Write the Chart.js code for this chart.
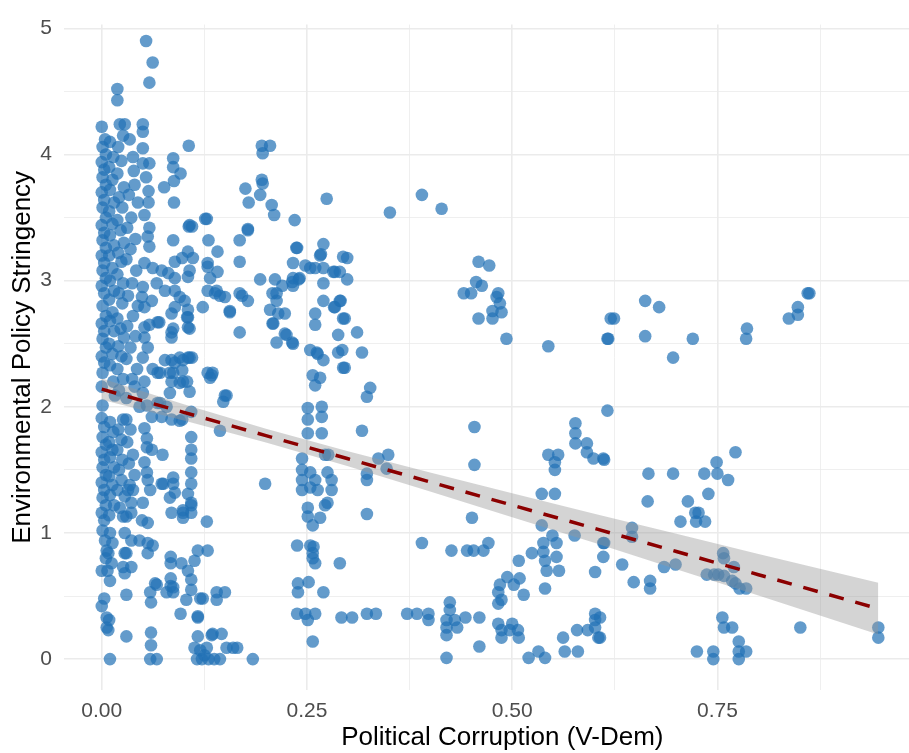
<!DOCTYPE html>
<html>
<head>
<meta charset="utf-8">
<script src="https://cdn.jsdelivr.net/npm/chart.js@4.4.1/dist/chart.umd.min.js"></script>
<style>
  html, body { margin: 0; padding: 0; background: #fff; overflow: hidden; }
</style>
</head>
<body>
<!-- the reference panel runs past the right edge of the picture, so the canvas does too -->
<canvas id="corruptionChart" width="947" height="753"></canvas>
<script>
// points, [corruption, stringency]
const denseColumnA = [[0.000,4.22],[0.004,4.12],[0.001,4.06],[0.005,4.00],[0.000,3.94],[0.003,3.88],[0.001,3.82],[0.005,3.76],[0.000,3.70],[0.003,3.64],[0.001,3.58],[0.005,3.50],[0.000,3.44],[0.003,3.38],[0.001,3.32],[0.005,3.26],[0.000,3.20],[0.003,3.14],[0.001,3.08],[0.005,3.02],[0.000,2.96],[0.003,2.90],[0.001,2.80],[0.005,2.72],[0.000,2.66],[0.003,2.60],[0.001,2.54],[0.005,2.47],[0.000,2.40],[0.003,2.35],[0.001,2.27],[0.000,2.16],[0.001,2.01],[0.000,1.91],[0.003,1.84],[0.001,1.76],[0.005,1.70],[0.000,1.64],[0.003,1.58],[0.001,1.52],[0.005,1.46],[0.000,1.40],[0.003,1.34],[0.001,1.28],[0.005,1.22],[0.000,1.16],[0.003,1.10],[0.001,1.02],[0.004,0.94],[0.006,0.86],[0.005,0.80],[0.000,0.70],[0.010,0.62],[0.003,0.48],[0.000,0.42]];
const denseColumnB = [[0.010,4.10],[0.014,3.98],[0.009,3.90],[0.013,3.80],[0.010,3.72],[0.015,3.62],[0.009,3.55],[0.013,3.45],[0.010,3.36],[0.015,3.28],[0.009,3.20],[0.013,3.10],[0.010,3.00],[0.015,2.92],[0.009,2.85],[0.013,2.75],[0.010,2.68],[0.015,2.60],[0.009,2.50],[0.013,2.42],[0.010,2.33],[0.014,2.20],[0.016,2.09],[0.010,1.88],[0.014,1.80],[0.009,1.72],[0.013,1.66],[0.010,1.60],[0.015,1.52],[0.009,1.45],[0.013,1.38],[0.010,1.30],[0.015,1.22],[0.009,1.14],[0.010,1.00],[0.013,0.92],[0.008,0.84],[0.012,0.76],[0.007,0.70],[0.006,0.33],[0.006,0.25],[0.009,0.31],[0.008,0.23],[0.010,0.00]];
const denseColumnC = [[0.019,4.52],[0.019,4.43],[0.022,4.24],[0.026,4.15],[0.020,4.06],[0.024,3.95],[0.019,3.85],[0.027,3.74],[0.021,3.66],[0.025,3.58],[0.019,3.48],[0.023,3.40],[0.027,3.30],[0.020,3.22],[0.024,3.15],[0.019,3.05],[0.026,2.98],[0.021,2.90],[0.025,2.82],[0.019,2.70],[0.023,2.62],[0.027,2.55],[0.020,2.48],[0.024,2.40],[0.019,2.30],[0.026,2.22],[0.021,2.13],[0.026,1.90],[0.020,1.82],[0.024,1.74],[0.019,1.66],[0.025,1.58],[0.021,1.50],[0.024,1.42],[0.019,1.34],[0.028,1.29],[0.022,1.20],[0.026,1.13],[0.028,1.00],[0.028,0.84],[0.026,0.73],[0.028,0.68]];
const denseColumnD = [[0.028,4.24],[0.034,4.12],[0.038,3.98],[0.039,3.87],[0.040,3.76],[0.033,3.68],[0.044,3.62],[0.036,3.50],[0.031,3.42],[0.041,3.33],[0.035,3.25],[0.030,3.17],[0.042,3.08],[0.037,2.98],[0.032,2.88],[0.044,2.80],[0.038,2.72],[0.031,2.64],[0.041,2.56],[0.035,2.47],[0.030,2.38],[0.043,2.30],[0.037,2.22],[0.040,2.16],[0.030,2.07],[0.030,1.90],[0.035,1.82],[0.031,1.72],[0.038,1.62],[0.033,1.55],[0.040,1.46],[0.034,1.38],[0.032,1.34],[0.038,1.34],[0.036,1.24],[0.036,1.16],[0.030,1.13],[0.036,0.94],[0.030,0.84],[0.036,0.73],[0.030,0.51],[0.030,0.18]];
const denseColumnE = [[0.054,4.90],[0.062,4.73],[0.058,4.57],[0.050,4.24],[0.050,4.18],[0.050,4.05],[0.050,3.93],[0.058,3.93],[0.054,3.82],[0.057,3.71],[0.057,3.62],[0.052,3.52],[0.058,3.42],[0.056,3.35],[0.058,3.27],[0.052,3.14],[0.062,3.10],[0.050,2.95],[0.049,2.87],[0.061,2.84],[0.052,2.79],[0.052,2.63],[0.052,2.55],[0.058,2.65],[0.056,2.47],[0.050,2.39],[0.062,2.30],[0.052,2.20],[0.050,2.11],[0.055,2.01],[0.046,2.00],[0.061,1.92],[0.052,1.83],[0.055,1.75],[0.055,1.68],[0.061,1.66],[0.052,1.56],[0.055,1.48],[0.056,1.42],[0.059,1.34],[0.050,1.24],[0.049,1.10],[0.056,1.08],[0.046,0.94],[0.056,0.92],[0.062,0.90],[0.056,0.84],[0.065,0.60],[0.059,0.53],[0.060,0.45],[0.060,0.21],[0.060,0.11],[0.059,0.00],[0.067,0.00]];
const leftScatter = [[0.087,3.97],[0.087,3.90],[0.096,3.85],[0.088,3.79],[0.076,3.74],[0.106,4.07],[0.088,3.62],[0.106,3.43],[0.110,3.43],[0.087,3.32],[0.107,3.44],[0.105,3.23],[0.098,3.18],[0.089,3.15],[0.111,3.18],[0.107,3.08],[0.105,3.03],[0.089,3.02],[0.081,3.06],[0.073,3.08],[0.067,2.98],[0.077,2.92],[0.089,2.92],[0.095,2.87],[0.101,2.84],[0.089,2.79],[0.085,2.74],[0.105,2.77],[0.105,2.71],[0.087,2.62],[0.085,2.55],[0.068,2.67],[0.070,2.67],[0.085,2.59],[0.104,2.71],[0.107,2.62],[0.123,2.79],[0.105,2.63],[0.105,2.39],[0.095,2.39],[0.089,2.35],[0.098,2.29],[0.110,2.39],[0.077,2.37],[0.087,2.27],[0.099,2.20],[0.068,2.27],[0.128,3.49],[0.129,2.27],[0.071,2.27],[0.083,2.27],[0.085,2.20],[0.083,2.11],[0.095,2.19],[0.104,2.20],[0.107,2.12],[0.099,2.37],[0.107,2.39],[0.085,2.37],[0.132,2.23],[0.135,2.27],[0.150,2.09],[0.152,2.09],[0.148,2.04],[0.144,1.81],[0.109,1.96],[0.071,2.03],[0.079,2.00],[0.068,2.03],[0.098,1.90],[0.085,1.90],[0.073,1.92],[0.095,1.89],[0.074,1.62],[0.075,1.39],[0.087,1.44],[0.083,1.28],[0.085,1.16],[0.099,1.16],[0.099,1.12],[0.109,1.76],[0.109,1.66],[0.109,1.59],[0.109,1.48],[0.109,1.39],[0.105,1.31],[0.109,1.22],[0.128,1.09],[0.073,1.39],[0.087,1.39],[0.089,1.32],[0.109,1.24],[0.109,1.16],[0.099,1.18],[0.199,1.39],[0.084,0.81],[0.084,0.76],[0.084,0.64],[0.084,0.58],[0.079,0.53],[0.087,0.53],[0.097,0.76],[0.105,0.70],[0.109,0.63],[0.109,0.55],[0.103,0.47],[0.096,0.36],[0.117,0.33],[0.120,0.48],[0.117,0.86],[0.129,0.86],[0.067,0.59],[0.113,0.78],[0.117,0.18],[0.120,0.07],[0.125,0.03],[0.113,0.09],[0.128,0.09],[0.165,0.09],[0.152,0.09],[0.160,0.09],[0.135,0.20],[0.146,0.20],[0.134,0.19],[0.116,0.00],[0.122,0.00],[0.130,0.00],[0.137,0.00],[0.144,0.00],[0.184,0.00],[0.117,0.34],[0.140,0.53],[0.150,0.53],[0.140,0.47],[0.123,0.48],[0.087,0.57],[0.126,3.49],[0.130,3.32],[0.141,3.23],[0.178,3.41],[0.168,3.32],[0.168,3.15],[0.129,3.11],[0.141,3.07],[0.132,3.02],[0.129,2.92],[0.138,2.90],[0.144,2.88],[0.150,2.87],[0.156,2.75],[0.171,2.88],[0.178,2.84],[0.168,2.59],[0.134,2.25],[0.140,2.92],[0.156,2.76],[0.168,2.90],[0.129,3.14],[0.195,4.07],[0.205,4.07],[0.196,4.01],[0.195,3.80],[0.196,3.77],[0.175,3.73],[0.179,3.62],[0.193,3.68],[0.207,3.60],[0.210,3.52],[0.235,3.48],[0.178,3.40]];
const midScatter = [[0.237,3.26],[0.233,3.14],[0.260,3.10],[0.193,3.01],[0.211,3.01],[0.213,2.90],[0.205,2.77],[0.209,2.66],[0.213,2.51],[0.233,2.50],[0.225,2.57],[0.232,2.99],[0.240,3.01],[0.254,3.10],[0.220,2.96],[0.208,2.90],[0.213,2.84],[0.215,2.74],[0.223,2.74],[0.208,2.66],[0.223,2.58],[0.232,2.51],[0.233,3.02],[0.241,3.02],[0.233,2.96],[0.270,2.98],[0.270,2.84],[0.260,2.74],[0.260,2.65],[0.284,2.79],[0.290,2.84],[0.294,2.70],[0.288,2.57],[0.254,2.45],[0.262,2.43],[0.270,2.37],[0.288,2.43],[0.294,2.31],[0.257,2.25],[0.266,2.23],[0.260,2.17],[0.274,3.65],[0.351,3.54],[0.390,3.68],[0.414,3.57],[0.270,3.29],[0.267,3.21],[0.299,3.18],[0.270,3.10],[0.282,3.07],[0.290,3.07],[0.299,3.01],[0.291,2.84],[0.283,2.79],[0.296,2.70],[0.311,2.59],[0.263,2.42],[0.293,2.45],[0.317,2.43],[0.296,2.31],[0.327,2.15],[0.323,2.08],[0.268,2.00],[0.248,3.12],[0.266,3.20],[0.294,3.19],[0.238,3.26],[0.284,3.07],[0.268,1.92],[0.268,1.79],[0.317,1.81],[0.251,1.99],[0.251,1.90],[0.251,1.79],[0.244,1.59],[0.244,1.50],[0.244,1.42],[0.244,1.34],[0.254,1.48],[0.260,1.42],[0.254,1.36],[0.263,1.34],[0.275,1.48],[0.280,1.42],[0.280,1.34],[0.276,1.62],[0.275,1.24],[0.251,1.20],[0.251,1.13],[0.257,1.06],[0.266,1.12],[0.272,1.62],[0.337,1.59],[0.349,1.62],[0.347,1.51],[0.323,1.47],[0.323,1.42],[0.323,1.15],[0.272,1.22],[0.238,0.90],[0.254,0.90],[0.257,0.84],[0.257,0.80],[0.260,0.76],[0.290,0.76],[0.239,0.60],[0.239,0.53],[0.252,0.61],[0.270,0.53],[0.238,0.36],[0.248,0.36],[0.260,0.36],[0.251,0.31],[0.257,0.14],[0.292,0.33],[0.305,0.33],[0.323,0.36],[0.334,0.36],[0.258,0.89]];
const rightMidScatter = [[0.372,0.36],[0.384,0.36],[0.398,0.36],[0.398,0.31],[0.424,0.45],[0.424,0.39],[0.420,0.31],[0.430,0.31],[0.420,0.25],[0.433,0.25],[0.420,0.19],[0.443,0.33],[0.460,0.33],[0.420,0.01],[0.460,0.10],[0.390,0.92],[0.426,0.86],[0.445,0.86],[0.453,0.86],[0.465,0.86],[0.471,0.92],[0.451,1.12],[0.454,1.84],[0.454,1.54],[0.459,3.15],[0.472,3.12],[0.456,2.99],[0.463,2.96],[0.441,2.90],[0.450,2.90],[0.483,2.90],[0.481,2.87],[0.485,2.82],[0.487,2.75],[0.476,2.76],[0.459,2.70],[0.476,2.70],[0.493,2.54],[0.544,2.48],[0.616,2.54],[0.620,2.70],[0.483,0.53],[0.485,0.59],[0.487,0.47],[0.483,0.44],[0.494,0.65],[0.502,0.59],[0.509,0.64],[0.514,0.51],[0.508,0.78],[0.524,0.84],[0.483,0.28],[0.487,0.23],[0.487,0.17],[0.500,0.28],[0.497,0.23],[0.507,0.23],[0.508,0.17],[0.520,0.01],[0.532,0.06],[0.540,0.01],[0.540,0.56],[0.536,1.31],[0.552,1.31],[0.536,1.06],[0.538,0.92],[0.538,0.85],[0.540,0.78],[0.542,0.70],[0.549,0.98],[0.554,0.92],[0.554,0.81],[0.557,0.70],[0.544,1.62],[0.556,1.62],[0.552,1.56],[0.552,1.50],[0.577,1.87],[0.577,1.79],[0.577,1.71],[0.591,1.71],[0.591,1.64],[0.599,1.59],[0.611,1.59],[0.616,1.97],[0.576,0.98],[0.611,0.92],[0.611,0.81],[0.601,0.69],[0.579,0.23],[0.562,0.17],[0.564,0.06],[0.580,0.06],[0.592,0.23],[0.601,0.36],[0.601,0.31],[0.601,0.25],[0.605,0.17],[0.612,0.92],[0.607,0.33],[0.607,0.17]];
const rightScatter = [[0.662,2.84],[0.679,2.79],[0.624,2.70],[0.617,2.54],[0.662,2.56],[0.720,2.54],[0.696,2.39],[0.786,2.62],[0.785,2.54],[0.837,2.70],[0.848,2.73],[0.848,2.79],[0.860,2.90],[0.862,2.90],[0.612,1.58],[0.666,1.47],[0.696,1.47],[0.734,1.47],[0.749,1.56],[0.750,1.47],[0.763,1.42],[0.772,1.64],[0.665,1.25],[0.714,1.25],[0.739,1.31],[0.723,1.16],[0.727,1.16],[0.705,1.09],[0.724,1.09],[0.735,1.09],[0.646,1.04],[0.646,0.97],[0.634,0.75],[0.685,0.73],[0.699,0.75],[0.648,0.61],[0.668,0.62],[0.668,0.56],[0.757,0.84],[0.758,0.80],[0.770,0.73],[0.737,0.67],[0.746,0.67],[0.751,0.67],[0.758,0.66],[0.768,0.62],[0.772,0.60],[0.777,0.56],[0.785,0.56],[0.851,0.25],[0.946,0.25],[0.946,0.17],[0.756,0.33],[0.758,0.25],[0.768,0.25],[0.776,0.14],[0.785,0.06],[0.776,0.06],[0.776,0.00],[0.745,0.06],[0.745,0.00],[0.725,0.06]];

// linear fit and its 95% band, read at a few x positions
const fitX = [0, 0.1, 0.2, 0.3, 0.4, 0.5, 0.6, 0.7, 0.8, 0.946];
const fitY = [2.14, 1.956, 1.772, 1.588, 1.404, 1.22, 1.037, 0.853, 0.669, 0.40];
const bandUpper = [2.225, 2.021, 1.827, 1.648, 1.479, 1.315, 1.152, 0.993, 0.834, 0.605];
const bandLower = [2.055, 1.891, 1.717, 1.528, 1.329, 1.125, 0.922, 0.713, 0.504, 0.195];

const xTicks = [0, 0.25, 0.5, 0.75];
const yTicks = [0, 1, 2, 3, 4, 5];

const allPoints = [denseColumnA, denseColumnB, denseColumnC, denseColumnD, denseColumnE,
  leftScatter, midScatter, rightMidScatter, rightScatter].flat().map(p => ({x: p[0], y: p[1]}));
const toXY = ys => fitX.map((x, i) => ({x: x, y: ys[i]}));

const fontFamily = "'Liberation Sans', Arial, Helvetica, sans-serif";
const isMajor = (v, list) => list.some(t => Math.abs(t - v) < 1e-6);

new Chart(document.getElementById("corruptionChart"), {
  type: "scatter",
  data: {
    datasets: [
      {label: "fit", data: toXY(fitY), showLine: true, borderColor: "#8b0000", borderWidth: 3.5, borderDash: [15, 12], pointRadius: 0, fill: false, order: 1},
      {label: "upper", data: toXY(bandUpper), showLine: true, borderWidth: 0, borderColor: "rgba(0,0,0,0)", backgroundColor: "rgba(153,153,153,0.42)", pointRadius: 0, fill: "+1", order: 2},
      {label: "lower", data: toXY(bandLower), showLine: true, borderWidth: 0, borderColor: "rgba(0,0,0,0)", pointRadius: 0, fill: false, order: 2},
      {label: "countries", data: allPoints, backgroundColor: "rgba(33,113,181,0.7)", borderWidth: 0, pointRadius: 6.3, pointHoverRadius: 6.3, order: 3}
    ]
  },
  options: {
    responsive: false,
    animation: false,
    devicePixelRatio: 1,
    layout: {padding: {top: 0, right: 0, bottom: 0, left: 0}},
    plugins: {legend: {display: false}, tooltip: {enabled: false}},
    scales: {
      x: {
        type: "linear", min: -0.046, max: 1.022,
        afterFit: s => { s.height = 63; },
        border: {display: false},
        grid: {color: "#ebebeb", drawTicks: false, lineWidth: c => isMajor(c.tick.value, xTicks) ? 1.6 : 0.8},
        ticks: {stepSize: 0.125, includeBounds: false, autoSkip: false, maxRotation: 0, padding: 9, color: "#4d4d4d",
          font: {family: fontFamily, size: 21},
          callback: v => isMajor(v, xTicks) ? v.toFixed(2) : ""},
        title: {display: true, text: "Political Corruption (V-Dem)", color: "#000", padding: {top: 0, bottom: 0},
          font: {family: fontFamily, size: 26}}
      },
      y: {
        type: "linear", min: -0.245, max: 5.03,
        afterFit: s => { s.width = 64; },
        border: {display: false},
        grid: {color: "#ebebeb", drawTicks: false, lineWidth: c => isMajor(c.tick.value, yTicks) ? 1.6 : 0.8},
        ticks: {stepSize: 0.5, includeBounds: false, autoSkip: false, padding: 12, color: "#4d4d4d",
          font: {family: fontFamily, size: 21},
          callback: v => isMajor(v, yTicks) ? String(v) : ""},
        title: {display: true, text: "Environmental Policy Stringency", color: "#000", padding: {top: 7, bottom: 0},
          font: {family: fontFamily, size: 26}}
      }
    }
  }
});
</script>
</body>
</html>
